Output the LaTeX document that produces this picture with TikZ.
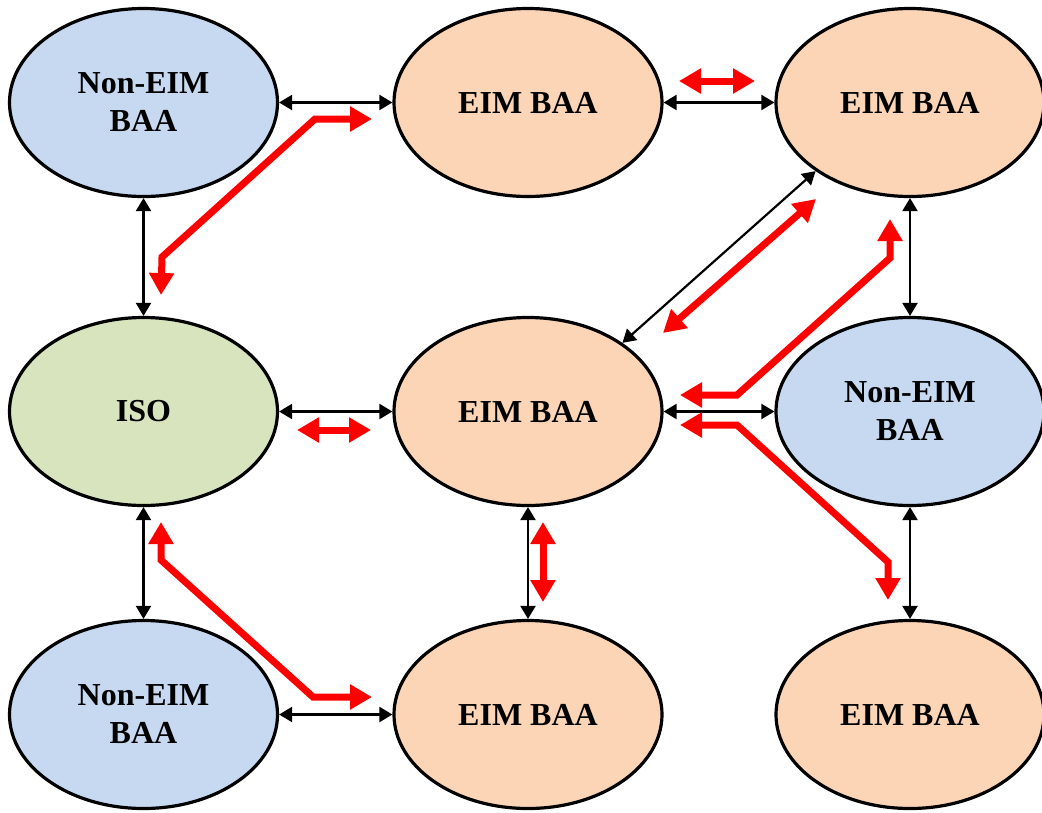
\documentclass[tikz,border=0pt]{standalone}
\usepackage{fontspec}
\setmainfont{Liberation Serif}
\usetikzlibrary{arrows.meta,shapes.geometric}
\definecolor{nblue}{HTML}{C6D9F1}
\definecolor{npeach}{HTML}{FBD5B5}
\definecolor{ngreen}{HTML}{D7E4BD}
\begin{document}
\begin{tikzpicture}[x=1pt,y=-1pt,
  baa/.style={ellipse,draw=black,line width=3.2pt,minimum width=268pt,minimum height=188pt,inner sep=0pt,
     align=center,font=\fontsize{32}{38}\selectfont\bfseries},
  eim/.style={baa,fill=npeach},
  neim/.style={baa,fill=nblue},
  iso/.style={baa,fill=ngreen},
  link/.style={line width=2.2pt,{Triangle[length=13pt,width=15pt]}-{Triangle[length=13pt,width=15pt]}},
  flow/.style={draw=red,line width=7pt,{Triangle[length=22pt,width=24pt]}-{Triangle[length=22pt,width=24pt]}}]
\useasboundingbox (0,0) rectangle (1042,812);
\node[neim] (n11) at (143.5,102.5) {Non-EIM\\BAA};
\node[eim]  (n12) at (528,102.5) {EIM BAA};
\node[eim]  (n13) at (910,102.5) {EIM BAA};
\node[iso]  (n21) at (143.5,411.5) {ISO};
\node[eim]  (n22) at (528,411.5) {EIM BAA};
\node[neim] (n23) at (910,411.5) {Non-EIM\\BAA};
\node[neim] (n31) at (143.5,714.5) {Non-EIM\\BAA};
\node[eim]  (n32) at (528,714.5) {EIM BAA};
\node[eim]  (n33) at (910,714.5) {EIM BAA};
% black links
\draw[link] (n11.east) -- (n12.west);
\draw[link] (n12.east) -- (n13.west);
\draw[link] (n11.south) -- (n21.north);
\draw[link] (n21.east) -- (n22.west);
\draw[link] (n22.east) -- (n23.west);
\draw[link] (n13.south) -- (n23.north);
\draw[link] (n13.216) -- (n22.36.5);
\draw[link] (n21.south) -- (n31.north);
\draw[link] (n22.south) -- (n32.north);
\draw[link] (n23.south) -- (n33.north);
\draw[link] (n31.east) -- (n32.west);
% red flows
\coordinate (a1) at (372,119); \coordinate (a2) at (161,295);
\draw[flow] (a1) -- (315,119) -- (162,257) -- (a2);
\coordinate (b1) at (679,81); \coordinate (b2) at (755,81);
\draw[flow] (b1) -- (b2);
\coordinate (c1) at (816,199); \coordinate (c2) at (663,333);
\draw[flow] (c1) -- (c2);
\coordinate (d1) at (890,219); \coordinate (d2) at (680,395);
\draw[flow] (d1) -- (890,258) -- (737,395) -- (d2);
\coordinate (e1) at (297,430); \coordinate (e2) at (371,430);
\draw[flow] (e1) -- (e2);
\coordinate (f1) at (680,425); \coordinate (f2) at (888,600);
\draw[flow] (f1) -- (737,425) -- (888,562) -- (f2);
\coordinate (g1) at (543,522); \coordinate (g2) at (543,602);
\draw[flow] (g1) -- (g2);
\coordinate (h1) at (161,522); \coordinate (h2) at (372,697);
\draw[flow] (h1) -- (161,560) -- (313,697) -- (h2);
\end{tikzpicture}
\end{document}
